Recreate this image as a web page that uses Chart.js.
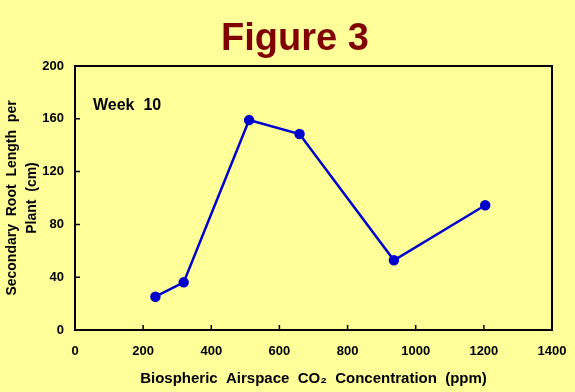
<!DOCTYPE html>
<html>
<head>
<meta charset="utf-8">
<script src="https://cdn.jsdelivr.net/npm/chart.js@4/dist/chart.umd.min.js"></script>
<style>
  html, body { margin: 0; padding: 0; background: #ffff99; }
  #chart { display: block; }
</style>
</head>
<body>
<canvas id="chart" width="575" height="392"></canvas>
<script>
// CO2 concentration (ppm) and secondary root length per plant (cm), week 10
const co2 = [236, 319, 511, 659, 936, 1204];
const rootLength = [25.2, 36.1, 159, 148.5, 52.8, 94.5];
const xTicks = [0, 200, 400, 600, 800, 1000, 1200, 1400];
const yTicks = [0, 40, 80, 120, 160, 200];

const points = co2.map((x, i) => ({ x: x, y: rootLength[i] }));

const fontFamily = "'Liberation Sans', Arial, sans-serif";

// heading, plot frame, inward tick marks and the "Week 10" label
const framePlugin = {
  id: "frame",
  afterDraw: (chart) => {
    const { ctx, chartArea: { left, right, top, bottom }, scales } = chart;
    ctx.save();
    ctx.strokeStyle = "#000";
    ctx.lineWidth = 2;
    ctx.strokeRect(left, top, right - left, bottom - top);

    ctx.lineWidth = 1.5;
    ctx.beginPath();
    xTicks.forEach((v) => {
      const x = scales.x.getPixelForValue(v);
      ctx.moveTo(x, bottom);
      ctx.lineTo(x, bottom - 5);
    });
    yTicks.forEach((v) => {
      const y = scales.y.getPixelForValue(v);
      ctx.moveTo(left, y);
      ctx.lineTo(left + 5, y);
    });
    ctx.stroke();

    ctx.fillStyle = "#000";
    ctx.font = `bold 16px ${fontFamily}`;
    ctx.textBaseline = "alphabetic";
    ctx.textAlign = "left";
    ctx.fillText("Week  10", left + 18, top + 44);

    ctx.fillStyle = "#800000";
    ctx.font = `bold 38px ${fontFamily}`;
    ctx.textAlign = "center";
    ctx.fillText("Figure 3", 295, 50);
    ctx.restore();
  },
};

new Chart(document.getElementById("chart"), {
  type: "line",
  data: {
    datasets: [
      {
        data: points,
        borderColor: "#0000cc",
        backgroundColor: "#0000cc",
        borderWidth: 2.5,
        pointRadius: 4,
        pointHoverRadius: 4,
        tension: 0,
      },
    ],
  },
  options: {
    responsive: false,
    animation: false,
    layout: { padding: { left: 0, right: 23, top: 66, bottom: 0 } },
    plugins: {
      legend: { display: false },
      tooltip: { enabled: false },
      title: { display: false },
    },
    scales: {
      x: {
        type: "linear",
        min: 0,
        max: 1400,
        afterBuildTicks: (scale) => {
          scale.ticks = xTicks.map((v) => ({ value: v }));
        },
        afterFit: (scale) => {
          scale.height = 62;
          scale.paddingLeft = 0;
          scale.paddingRight = 0;
        },
        grid: { display: false, drawTicks: false },
        border: { display: false },
        ticks: {
          color: "#000",
          padding: 14,
          maxRotation: 0,
          callback: (v) => String(v),
          font: { family: fontFamily, size: 13, weight: "bold" },
        },
        title: {
          display: true,
          text: "Biospheric  Airspace  CO\u2082  Concentration  (ppm)",
          color: "#000",
          font: { family: fontFamily, size: 15, weight: "bold", lineHeight: 1.2 },
          padding: { top: 0, bottom: 4 },
        },
      },
      y: {
        min: 0,
        max: 200,
        afterBuildTicks: (scale) => {
          scale.ticks = yTicks.map((v) => ({ value: v }));
        },
        afterFit: (scale) => {
          scale.width = 75;
        },
        grid: { display: false, drawTicks: false },
        border: { display: false },
        ticks: {
          color: "#000",
          padding: 11,
          font: { family: fontFamily, size: 13, weight: "bold" },
        },
        title: {
          display: true,
          text: ["Secondary  Root  Length  per", "Plant  (cm)"],
          color: "#000",
          font: { family: fontFamily, size: 14, weight: "bold", lineHeight: 1.45 },
          padding: { top: 2, bottom: 0 },
        },
      },
    },
  },
  plugins: [framePlugin],
});
</script>
</body>
</html>
